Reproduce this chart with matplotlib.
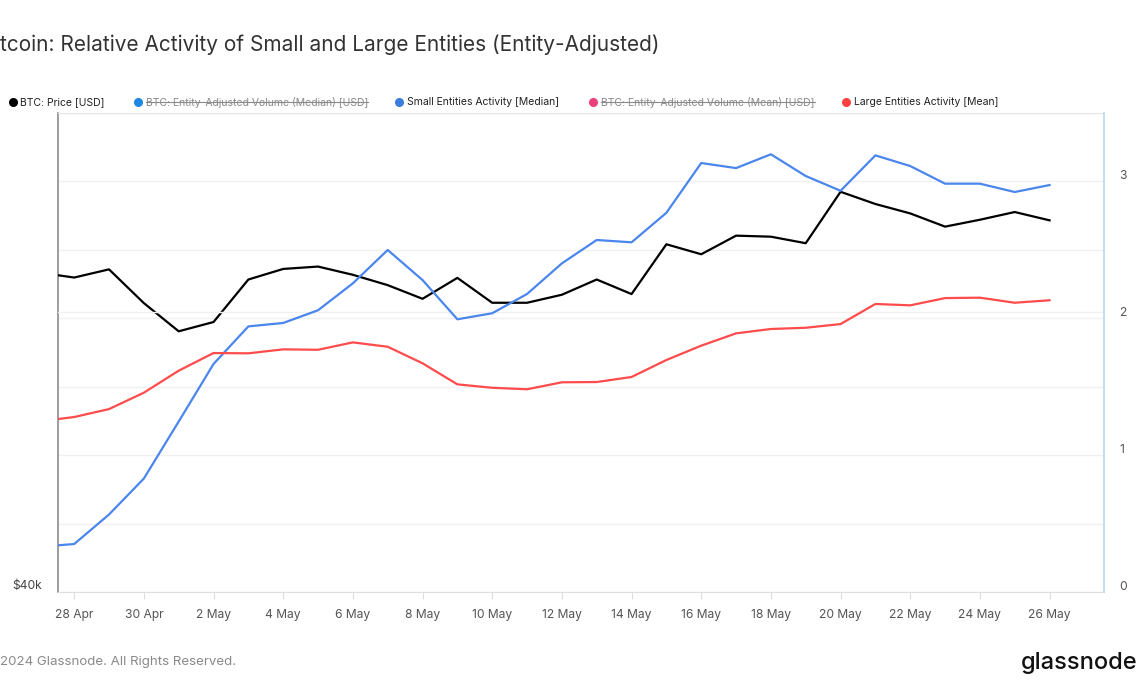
import numpy as np
import pandas as pd
import matplotlib
matplotlib.use('Agg')
import matplotlib.pyplot as plt
import matplotlib.dates as mdates
from matplotlib.ticker import FixedLocator, FixedFormatter, NullLocator
from matplotlib.lines import Line2D
from matplotlib.transforms import IdentityTransform, ScaledTranslation

plt.rcParams['font.family'] = ['Inter', 'DejaVu Sans']

# ---- data ----
dates = pd.date_range('2024-04-27', '2024-05-26', freq='D')
price = [63500, 63050, 63800, 60760, 58330, 59120, 62870, 63840, 64060, 63300,
         62360, 61140, 63020, 60790, 60790, 61500, 62870, 61560, 66160, 65210,
         66990, 66890, 66260, 71380, 70130, 69180, 67870, 68550, 69320, 68490]
small = [0.280, 0.300, 0.516, 0.779, 1.196, 1.617, 1.892, 1.917, 2.010, 2.207,
         2.451, 2.231, 1.944, 1.988, 2.129, 2.353, 2.524, 2.507, 2.723, 3.087,
         3.050, 3.151, 2.992, 2.884, 3.143, 3.065, 2.936, 2.936, 2.875, 2.926]
large = [1.197, 1.229, 1.287, 1.407, 1.568, 1.697, 1.695, 1.724, 1.721, 1.775,
         1.743, 1.622, 1.468, 1.443, 1.432, 1.483, 1.485, 1.522, 1.646, 1.751,
         1.841, 1.873, 1.882, 1.909, 2.056, 2.046, 2.099, 2.102, 2.065, 2.083]

tick_dates = pd.date_range('2024-04-28', '2024-05-26', freq='2D')
price_grid = [40000 * 2 ** (k / 7) for k in range(8)]
price_labels = ['$40k'] + [''] * 7
act_ticks = [0, 1, 2, 3]

legend_labels = ['BTC: Price [USD]', 'BTC: Entity-Adjusted Volume (Median) [USD]',
                 'Small Entities Activity [Median]', 'BTC: Entity-Adjusted Volume (Mean) [USD]',
                 'Large Entities Activity [Mean]']
legend_colors = ['#000000', '#1e88e5', '#3b7ddd', '#ec407a', '#ff4040']
legend_hidden = [False, True, False, True, False]
legend_x = [12.5, 137.5, 399, 593, 846]

W, H = 1140, 694
fig = plt.figure(figsize=(W / 100, H / 100), dpi=100)
ax = fig.add_axes([57.5 / W, 1 - 592 / H, (1104 - 57.5) / W, (592 - 113) / H])
ax2 = ax.twinx()

# price, log axis on the left
ax.plot(dates, price, color='#000000', lw=1.6, zorder=3)
ax.set_yscale('log')
ax.set_ylim(40000, 80000)
ax.yaxis.set_major_locator(FixedLocator(price_grid))
ax.yaxis.set_major_formatter(FixedFormatter(price_labels))
ax.yaxis.set_minor_locator(NullLocator())
ax.grid(axis='y', color='#f0f0f0', lw=1)
ax.set_axisbelow(True)
ax.tick_params(axis='y', length=0, pad=11, labelsize=8.7, labelcolor='#444444')

# activities on the right
ax2.axhline(2, color='#f0f0f0', lw=1, zorder=0)
ax2.plot(dates, small, color='#4a86ec', lw=1.6)
ax2.plot(dates, large, color='#ff4b4b', lw=1.6)
ax2.set_ylim(-0.051, 3.453)
ax2.set_yticks(act_ticks)
ax2.tick_params(axis='y', length=0, pad=11, labelsize=8.7, labelcolor='#555555')

ax.set_xlim(pd.Timestamp('2024-04-27 12:30'), pd.Timestamp('2024-05-27 13:30'))
ax.set_xticks(tick_dates)
ax.xaxis.set_major_formatter(mdates.DateFormatter('%-d %b'))
ax.tick_params(axis='x', length=5, color='#dddddd', pad=7, labelsize=8.7, labelcolor='#555555')

for s in ['left', 'top', 'bottom']:
    ax2.spines[s].set_visible(False)
ax.spines['right'].set_visible(False)
ax.spines['left'].set_color('#8c8c8c')
ax.spines['left'].set_linewidth(1.2)
ax.spines['bottom'].set_color('#e0e0e0')
ax.spines['top'].set_color('#e6e6e6')
ax2.spines['right'].set_color('#b3d9f7')
ax2.spines['right'].set_linewidth(1.2)

# lift the $40k label a little above the bottom line, like the original
for lbl in ax.get_yticklabels():
    lbl.set_transform(lbl.get_transform() + ScaledTranslation(0, 0.07, fig.dpi_scale_trans))

# titles and footer
fig.text(0, 1 - 45 / H, 'tcoin: Relative Activity of Small and Large Entities (Entity-Adjusted)',
         fontsize=15, color='#333333', va='center', ha='left')
fig.text(0, 1 - 662 / H, '2024 Glassnode. All Rights Reserved.', fontsize=9.6,
         color='#8a8a8a', va='center', ha='left')
fig.text(1137 / W, 1 - 663 / H, 'glassnode', fontsize=17, color='#111111',
         va='center', ha='right', fontweight='medium')

# legend row
texts = []
for lx, lab, col, hid in zip(legend_x, legend_labels, legend_colors, legend_hidden):
    fig.add_artist(Line2D([lx / W], [1 - 102 / H], marker='o', ms=5.5, color=col,
                          transform=fig.transFigure))
    t = fig.text((lx + 8) / W, 1 - 102 / H, lab, fontsize=7.5, va='center', ha='left',
                 color='#8a8a8a' if hid else '#222222')
    texts.append((t, hid))

fig.canvas.draw()
r = fig.canvas.get_renderer()
for t, hid in texts:
    if hid:
        bb = t.get_window_extent(r)
        y = bb.y0 + 0.52 * bb.height
        fig.add_artist(Line2D([bb.x0, bb.x1], [y, y], color='#8a8a8a', lw=0.8,
                              transform=IdentityTransform()))

fig.savefig('out.png', dpi=100)
